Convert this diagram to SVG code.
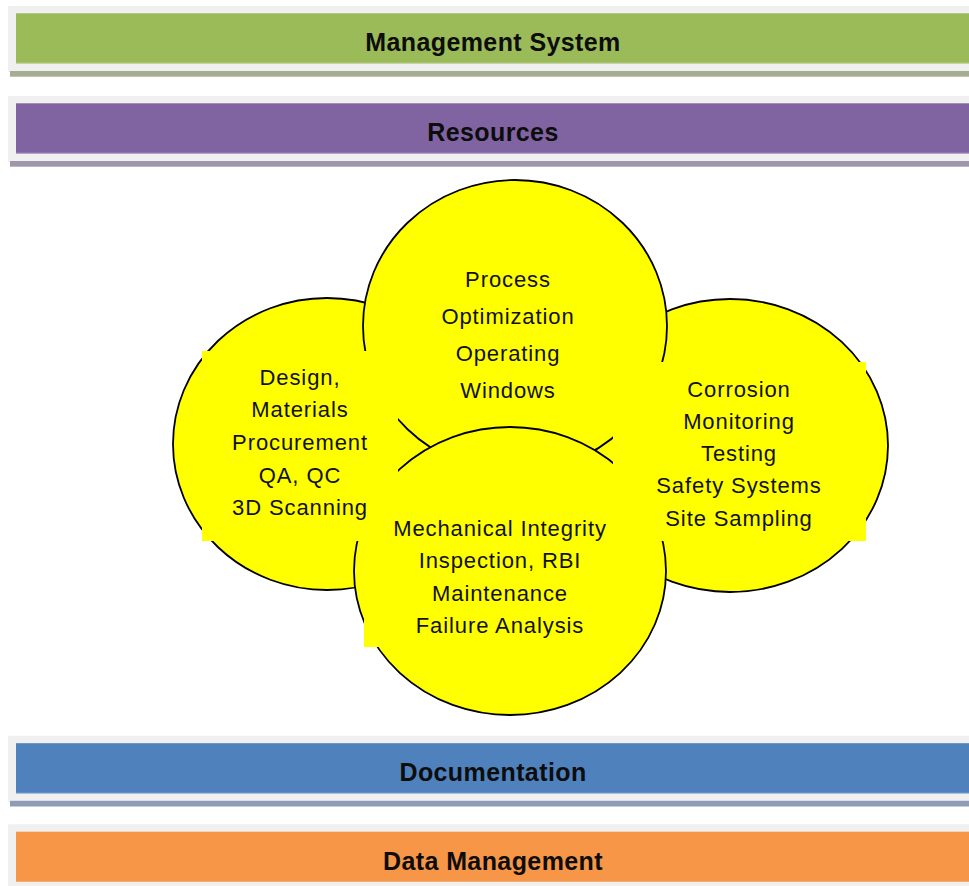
<svg xmlns="http://www.w3.org/2000/svg" width="969" height="886" viewBox="0 0 969 886">
<style>
.bg{fill:#f0f0f0}
.bt{font-family:"Liberation Sans",Arial,sans-serif;font-weight:bold;font-size:25px;letter-spacing:0.4px;fill:#0d0d0d;text-anchor:middle}
.el{fill:#ffff00;stroke:#000;stroke-width:1.8}
.tb{fill:#ffff00}
.ct{font-family:"Liberation Sans",Arial,sans-serif;font-size:22px;letter-spacing:0.9px;fill:#111;text-anchor:middle}
</style>
<rect width="969" height="886" fill="#fff"/>
<g id="bar-management">
<rect class="bg" x="8" y="6" width="961" height="66"/>
<rect x="10" y="71" width="959" height="5.7" fill="#a5ae91"/>
<rect x="16" y="13.3" width="953" height="50" fill="#9bbb59"/>
<rect x="16" y="62.5" width="953" height="1" fill="#b4c985"/>
<text class="bt" x="493" y="51">Management System</text>
</g>
<g id="bar-resources">
<rect class="bg" x="8" y="96" width="961" height="66"/>
<rect x="10" y="161" width="959" height="5.7" fill="#a096aa"/>
<rect x="16" y="103.3" width="953" height="50" fill="#8064a2"/>
<rect x="16" y="152.5" width="953" height="1" fill="#9a83b5"/>
<text class="bt" x="493" y="141">Resources</text>
</g>
<g id="circle-shapes">
<ellipse id="shape-design" class="el" cx="327" cy="444" rx="154" ry="146"/>
<ellipse id="shape-corrosion" class="el" cx="730" cy="445.5" rx="158" ry="146.5"/>
<ellipse id="shape-process" class="el" cx="515" cy="326" rx="152" ry="146"/>
<ellipse id="shape-integrity" class="el" cx="510" cy="571" rx="156" ry="144"/>
</g>
<g id="text-boxes">
<rect class="tb" x="202" y="351" width="196" height="190"/>
<rect class="tb" x="613" y="362" width="253" height="179"/>
<rect class="tb" x="364" y="518" width="272" height="129"/>
</g>
<g id="node-design">
<text class="ct" x="300" y="384.5">Design,</text>
<text class="ct" x="300" y="417.2">Materials</text>
<text class="ct" x="300" y="450">Procurement</text>
<text class="ct" x="300" y="482.5">QA, QC</text>
<text class="ct" x="300" y="515">3D Scanning</text>
</g>
<g id="node-corrosion">
<text class="ct" x="739" y="396.7">Corrosion</text>
<text class="ct" x="739" y="428.5">Monitoring</text>
<text class="ct" x="739" y="460.8">Testing</text>
<text class="ct" x="739" y="493.3">Safety Systems</text>
<text class="ct" x="739" y="525.7">Site Sampling</text>
</g>
<g id="node-process">
<text class="ct" x="508" y="287">Process</text>
<text class="ct" x="508" y="324">Optimization</text>
<text class="ct" x="508" y="361">Operating</text>
<text class="ct" x="508" y="398">Windows</text>
</g>
<g id="node-integrity">
<text class="ct" x="500" y="535.7">Mechanical Integrity</text>
<text class="ct" x="500" y="568.3">Inspection, RBI</text>
<text class="ct" x="500" y="600.8">Maintenance</text>
<text class="ct" x="500" y="633.3">Failure Analysis</text>
</g>
<g id="connectors"></g>
<g id="bar-documentation">
<rect class="bg" x="8" y="735.7" width="961" height="66"/>
<rect x="10" y="800.8" width="959" height="5.7" fill="#8e9db3"/>
<rect x="16" y="743.2" width="953" height="50" fill="#4f81bd"/>
<rect x="16" y="792.4" width="953" height="1" fill="#6d96c8"/>
<text class="bt" x="493" y="781">Documentation</text>
</g>
<g id="bar-data">
<rect class="bg" x="8" y="824.3" width="961" height="62"/>
<rect x="16" y="831.7" width="953" height="50" fill="#f79646"/>
<rect x="16" y="880.9" width="953" height="1" fill="#f9ab6b"/>
<text class="bt" x="493" y="869.5">Data Management</text>
</g>
</svg>
